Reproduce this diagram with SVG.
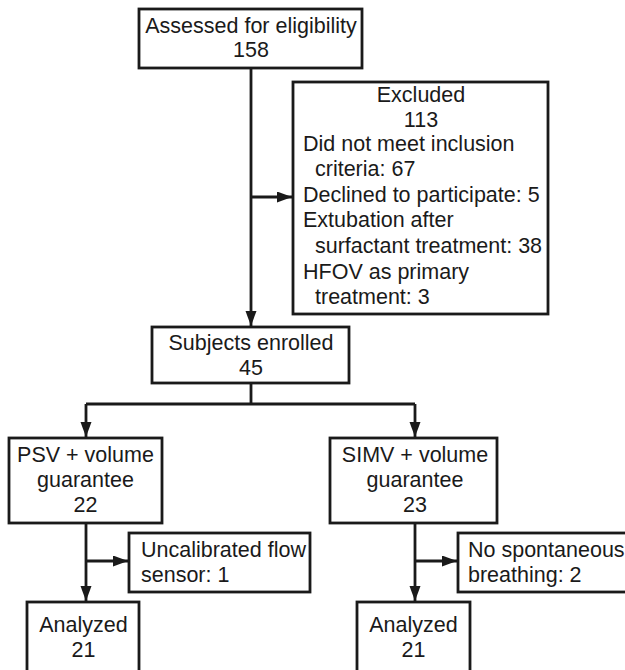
<svg xmlns="http://www.w3.org/2000/svg" width="625" height="670" viewBox="0 0 625 670">
<defs>
<style>
.box{fill:#fff;stroke:#1a1a1a;stroke-width:2.8}
.t{font-family:"Liberation Sans",Arial,sans-serif;font-size:21.5px;fill:#1a1a1a}
.c{text-anchor:middle}
.ln{fill:none;stroke:#1a1a1a;stroke-width:2.8}
</style>
<marker id="ah" markerUnits="userSpaceOnUse" markerWidth="16" markerHeight="12" refX="15" refY="5.5" orient="auto">
<path d="M0,0 L15,5.5 L0,11 z" fill="#1a1a1a"/>
</marker>
</defs>
<rect width="625" height="670" fill="#fff"/>
<g id="connectors">
<path class="ln" d="M251,68 V326" marker-end="url(#ah)"/>
<path class="ln" d="M251,197 H292" marker-end="url(#ah)"/>
<path class="ln" d="M251,383 V404 M86,404 H415"/>
<path class="ln" d="M86,404 V437" marker-end="url(#ah)"/>
<path class="ln" d="M415,404 V437" marker-end="url(#ah)"/>
<path class="ln" d="M86,523 V601" marker-end="url(#ah)"/>
<path class="ln" d="M86,561 H128" marker-end="url(#ah)"/>
<path class="ln" d="M415,523 V601" marker-end="url(#ah)"/>
<path class="ln" d="M415,561 H457" marker-end="url(#ah)"/>
</g>
<g id="assessed">
<rect class="box" x="139" y="9" width="223" height="59"/>
<text class="t c" x="251" y="33">Assessed for eligibility</text>
<text class="t c" x="251" y="57">158</text>
</g>
<g id="excluded">
<rect class="box" x="293" y="82" width="255" height="232"/>
<text class="t c" x="421" y="102">Excluded</text>
<text class="t c" x="421" y="127">113</text>
<text class="t" x="303" y="151">Did not meet inclusion</text>
<text class="t" x="315" y="176">criteria: 67</text>
<text class="t" x="303" y="202">Declined to participate: 5</text>
<text class="t" x="303" y="227">Extubation after</text>
<text class="t" x="315" y="253">surfactant treatment: 38</text>
<text class="t" x="303" y="279">HFOV as primary</text>
<text class="t" x="315" y="304">treatment: 3</text>
</g>
<g id="enrolled">
<rect class="box" x="152" y="327" width="197" height="56"/>
<text class="t c" x="251" y="350">Subjects enrolled</text>
<text class="t c" x="251" y="375">45</text>
</g>
<g id="psv">
<rect class="box" x="9" y="438" width="153" height="85"/>
<text class="t c" x="85.5" y="462">PSV + volume</text>
<text class="t c" x="85.5" y="487">guarantee</text>
<text class="t c" x="85.5" y="512">22</text>
</g>
<g id="simv">
<rect class="box" x="330" y="438" width="167" height="85"/>
<text class="t c" x="415" y="462">SIMV + volume</text>
<text class="t c" x="415" y="487">guarantee</text>
<text class="t c" x="415" y="512">23</text>
</g>
<g id="uncalibrated">
<rect class="box" x="129" y="533" width="181" height="59"/>
<text class="t" x="141" y="557">Uncalibrated flow</text>
<text class="t" x="141" y="582">sensor: 1</text>
</g>
<g id="nospont">
<rect class="box" x="458" y="533" width="172" height="59"/>
<text class="t" x="468" y="557">No spontaneous</text>
<text class="t" x="468" y="582">breathing: 2</text>
</g>
<g id="analyzed-left">
<rect class="box" x="27" y="602" width="112" height="80"/>
<text class="t c" x="83.5" y="632">Analyzed</text>
<text class="t c" x="83.5" y="657">21</text>
</g>
<g id="analyzed-right">
<rect class="box" x="357" y="602" width="113" height="80"/>
<text class="t c" x="413.5" y="632">Analyzed</text>
<text class="t c" x="413.5" y="657">21</text>
</g>
</svg>
